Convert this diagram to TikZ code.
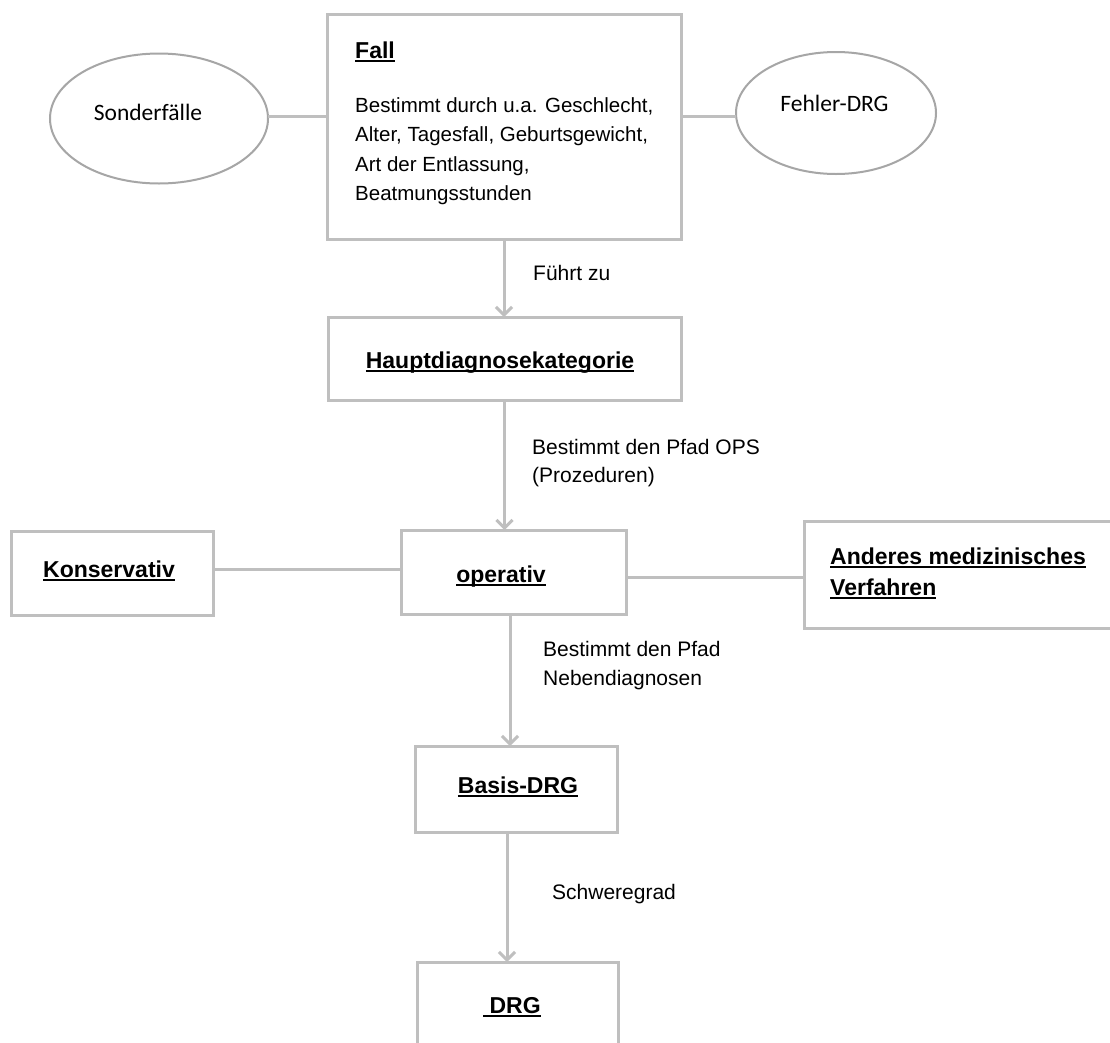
\documentclass[tikz,border=0pt]{standalone}
\usepackage{fontspec}
\setmainfont{Liberation Sans}
\newfontfamily\calibfont{Carlito}
\usetikzlibrary{arrows.meta,shapes.geometric,calc}
\definecolor{boxgray}{HTML}{BFBFBF}
\definecolor{ellgray}{HTML}{A6A6A6}
\newcommand\myul[1]{\setbox0\hbox{#1}\rlap{\rule[-4pt]{\wd0}{1.8pt}}\box0}
\tikzset{
  box/.style={draw=boxgray, line width=3pt, inner sep=0pt, outer sep=0pt},
  ell/.style={ellipse, draw=ellgray, line width=2pt, inner sep=0pt, outer sep=0pt},
  conn/.style={draw=boxgray, line width=3pt},
  arr/.style={conn, -{Straight Barb[length=8pt,width=16pt]}},
  title/.style={font=\fontsize{23}{27}\selectfont\bfseries, inner sep=0pt, anchor=base},
  body/.style={font=\fontsize{20.5}{24}\selectfont, inner sep=0pt, anchor=base west},
  lab/.style={font=\fontsize{21}{25}\selectfont, inner sep=0pt, anchor=base west},
  elltext/.style={font=\calibfont\fontsize{23.5}{28}\selectfont, inner sep=0pt, anchor=base},
}
\begin{document}
\begin{tikzpicture}[x=1pt,y=-1pt]
\useasboundingbox (0,0) rectangle (1110,1042);
\clip (0,0) rectangle (1110,1042);
\fill[white] (0,0) rectangle (1110,1042);

% boxes
\node[box, minimum width=354pt, minimum height=225pt] (fall) at (504,126.5) {};
\node[box, minimum width=353pt, minimum height=83pt] (haupt) at (504.5,358.5) {};
\node[box, minimum width=225pt, minimum height=84pt] (oper) at (513.5,572) {};
\node[box, minimum width=202pt, minimum height=84pt] (kons) at (112,573) {};
\node[box, minimum width=320pt, minimum height=107pt] (anderes) at (964,574.5) {};
\node[box, minimum width=202pt, minimum height=86pt] (basis) at (516,789) {};
\node[box, minimum width=201pt, minimum height=110pt] (drg) at (517.5,1017) {};

% ellipses
\node[ell, minimum width=218pt, minimum height=130pt] (sonder) at (159,118.5) {};
\node[ell, minimum width=200pt, minimum height=122pt] (fehler) at (836,113) {};

% connectors
\draw[conn] ([yshift=2.5pt]sonder.east) -- ([yshift=2.5pt]sonder.east -| fall.west);
\draw[conn] ([yshift=-3pt]fehler.west -| fall.east) -- ([yshift=-3pt]fehler.west);
\draw[arr] (fall.south) -- (fall.south |- haupt.north);
\draw[arr] (haupt.south) -- (haupt.south |- oper.north);
\draw[arr] ([xshift=-3.5pt]oper.south) -- ([xshift=-3.5pt]oper.south |- basis.north);
\draw[arr] ([xshift=-9pt]basis.south) -- ([xshift=-9pt]basis.south |- drg.north);
\draw[conn] ([yshift=4pt]kons.east) -- ([yshift=4pt]kons.east -| oper.west);
\draw[conn] ([yshift=-5pt]oper.east) -- ([yshift=-5pt]oper.east -| anderes.west);

% texts
\node[title, anchor=base west] (tfall) at (355,58) {\myul{Fall}};
\node[body] (fb1) at (355,112) {Bestimmt durch u.a. Geschlecht,};
\node[body] (fb2) at (355,141.5) {Alter, Tagesfall, Geburtsgewicht,};
\node[body] (fb3) at (355,171) {Art der Entlassung,};
\node[body] (fb4) at (355,200.5) {Beatmungsstunden};

\node[elltext] (tsonder) at (148,120) {Sonderfälle};
\node[elltext] (tfehler) at (834.5,111) {Fehler-DRG};

\node[lab] (l1) at (533,280) {Führt zu};
\node[title] (thaupt) at (500,368) {\myul{Hauptdiagnosekategorie}};
\node[lab] (l2a) at (532,454) {Bestimmt den Pfad OPS};
\node[lab] (l2b) at (532,482) {(Prozeduren)};
\node[title] (toper) at (501,582) {\myul{operativ}};
\node[title, anchor=base west] (tkons) at (43,577) {\myul{Konservativ}};
\node[title, anchor=base west] (tand1) at (830,564) {\myul{Anderes medizinisches}};
\node[title, anchor=base west] (tand2) at (830,595) {\myul{Verfahren}};
\node[lab] (l3a) at (543,656) {Bestimmt den Pfad};
\node[lab] (l3b) at (543,685) {Nebendiagnosen};
\node[title] (tbasis) at (518,793) {\myul{Basis-DRG}};
\node[lab] (l4) at (552,899) {Schweregrad};
\node[title, anchor=base west] (tdrg) at (483,1013) {\myul{\ DRG}};
\end{tikzpicture}
\end{document}
